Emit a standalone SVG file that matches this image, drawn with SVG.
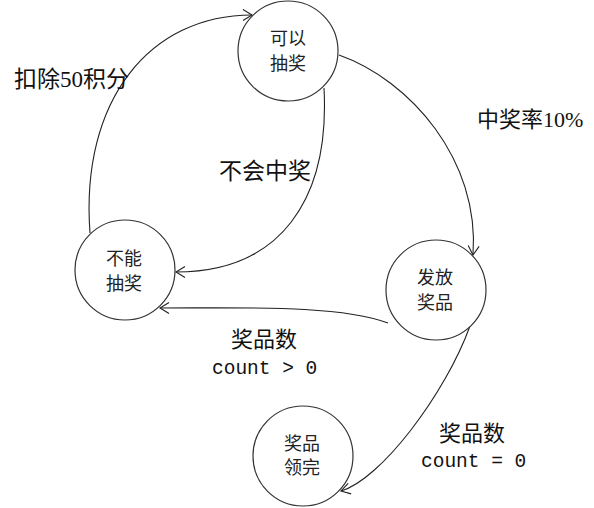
<svg xmlns="http://www.w3.org/2000/svg" width="594" height="508" viewBox="0 0 594 508">
<style>
.node{fill:#fff;stroke:#333;stroke-width:1.2}
.nt{font-family:"Liberation Serif","Noto Sans CJK SC",serif;font-size:18px;fill:#222;text-anchor:middle}
.lb{font-family:"Liberation Serif","Noto Sans CJK SC",serif;font-size:22px;fill:#111}
.mono{font-family:"Liberation Mono","Noto Sans CJK SC",monospace;font-size:19.5px;fill:#111}
.edge{fill:none;stroke:#222;stroke-width:1.1;marker-end:url(#arr)}
</style>
<defs>
<marker id="arr" viewBox="-1 -7 12 14" markerWidth="12" markerHeight="14" refX="9" refY="0" orient="auto" markerUnits="userSpaceOnUse">
<path d="M0,-5.5 L9,0 L0,5.5" fill="none" stroke="#222" stroke-width="1.1"/>
</marker>
</defs>
<rect width="594" height="508" fill="#fff"/>
<g id="connectors">
<path class="edge" d="M339,55 C410,80 480,160 473,255"/>
<path class="edge" d="M324,88 C330,200 280,272 176,272"/>
<path class="edge" d="M90,233 C80,100 150,15 252,15"/>
<path class="edge" d="M388,323 C340,305 250,308 160,308"/>
<path class="edge" d="M470,326 C445,395 380,480 341,491"/>
</g>
<g id="node-kyc">
<circle class="node" cx="288" cy="51" r="50"/>
<text class="nt" x="288" y="45">可以</text>
<text class="nt" x="288" y="70">抽奖</text>
</g>
<g id="node-bncj">
<circle class="node" cx="125" cy="270" r="50"/>
<text class="nt" x="124" y="265">不能</text>
<text class="nt" x="124" y="290">抽奖</text>
</g>
<g id="node-ffjp">
<circle class="node" cx="436" cy="290" r="50"/>
<text class="nt" x="435" y="284">发放</text>
<text class="nt" x="435" y="309">奖品</text>
</g>
<g id="node-jplw">
<circle class="node" cx="303" cy="456" r="50"/>
<text class="nt" x="302" y="450">奖品</text>
<text class="nt" x="302" y="474">领完</text>
</g>
<g id="labels">
<text class="lb" x="14" y="87" style="font-size:23px">扣除50积分</text>
<text class="lb" x="477" y="127">中奖率10%</text>
<text class="lb" x="219" y="179" style="font-size:23px">不会中奖</text>
<text class="lb" x="231" y="347">奖品数</text>
<text class="mono" x="212" y="374">count &gt; 0</text>
<text class="lb" x="439" y="441">奖品数</text>
<text class="mono" x="421" y="467">count = 0</text>
</g>
</svg>
